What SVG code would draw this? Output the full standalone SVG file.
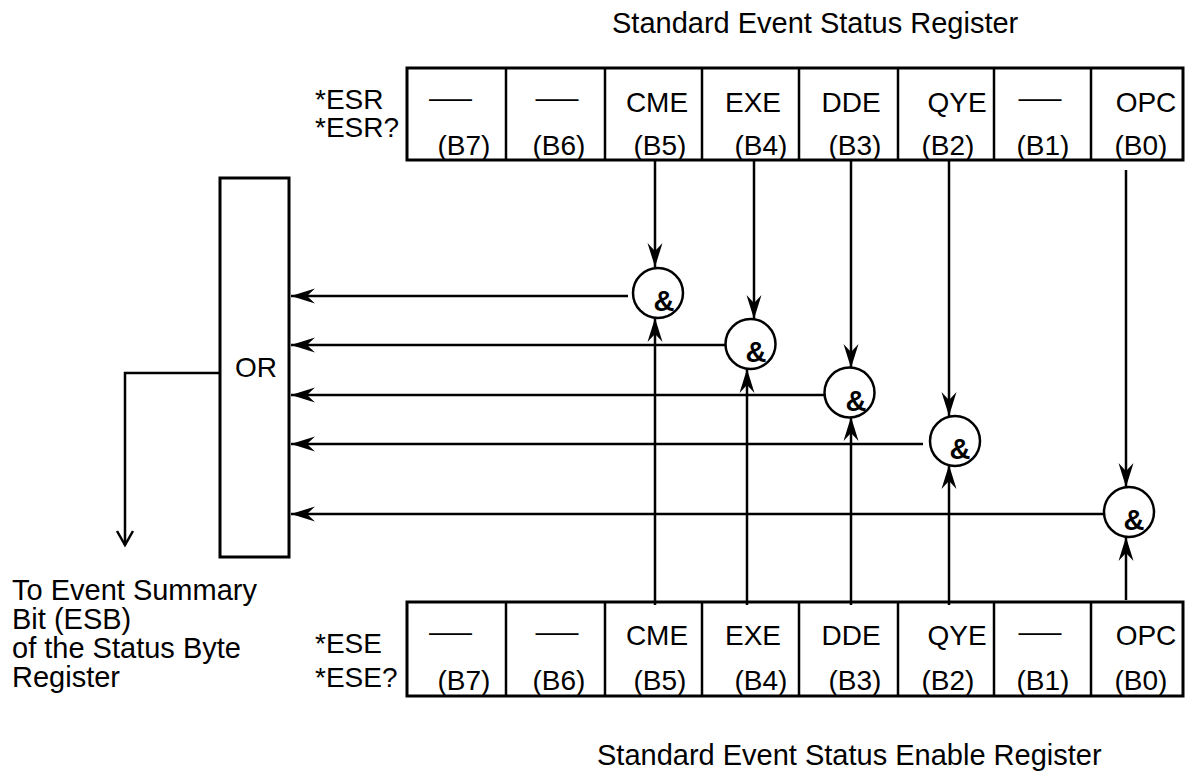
<svg xmlns="http://www.w3.org/2000/svg" width="1186" height="772" viewBox="0 0 1186 772">
<style>
  .t { font-family: "Liberation Sans", Arial, sans-serif; font-size: 28px; fill: #000; }
  .title { font-family: "Liberation Sans", Arial, sans-serif; font-size: 29px; fill: #000; }
  .note { font-family: "Liberation Sans", Arial, sans-serif; font-size: 29px; fill: #000; }
  .amp { font-family: "Liberation Sans", Arial, sans-serif; font-size: 29px; font-weight: bold; fill: #000; text-anchor: middle; }
  .c { text-anchor: middle; }
  .box { fill: #fff; stroke: #000; stroke-width: 3; }
  .div { stroke: #000; stroke-width: 2.5; fill: none; }
  .gate { fill: #fff; stroke: #000; stroke-width: 2.5; }
  .ln { stroke: #000; stroke-width: 2.5; fill: none; }
</style>
<defs>
  <marker id="ah" viewBox="-26 -9 27 18" markerWidth="27" markerHeight="18" refX="0" refY="0" orient="auto" markerUnits="userSpaceOnUse">
    <path d="M0,0 L-24,-7.5 L-16,0 L-24,7.5 Z" fill="#000"/>
  </marker>
</defs>

<text class="title" x="612" y="33">Standard Event Status Register</text>
<text class="title" x="597" y="765">Standard Event Status Enable Register</text>

<g id="esr-register">
  <rect class="box" x="407" y="68" width="776" height="92"/>
  <path class="div" d="M506,68V160M605,68V160M702,68V160M799,68V160M898,68V160M994,68V160M1091,68V160"/>
  <text class="t" x="315" y="109">*ESR</text>
  <text class="t" x="315" y="137">*ESR?</text>
  <text class="t c" x="450.5" y="107" textLength="43" lengthAdjust="spacingAndGlyphs">—</text>
  <text class="t c" x="557" y="107" textLength="43" lengthAdjust="spacingAndGlyphs">—</text>
  <text class="t c" x="657" y="112">CME</text>
  <text class="t c" x="753" y="112">EXE</text>
  <text class="t c" x="851" y="112">DDE</text>
  <text class="t c" x="957" y="112">QYE</text>
  <text class="t c" x="1040" y="107" textLength="43" lengthAdjust="spacingAndGlyphs">—</text>
  <text class="t c" x="1146" y="112">OPC</text>
  <text class="t c" x="464" y="155">(B7)</text>
  <text class="t c" x="559" y="155">(B6)</text>
  <text class="t c" x="660" y="155">(B5)</text>
  <text class="t c" x="761" y="155">(B4)</text>
  <text class="t c" x="855" y="155">(B3)</text>
  <text class="t c" x="948" y="155">(B2)</text>
  <text class="t c" x="1043" y="155">(B1)</text>
  <text class="t c" x="1141" y="155">(B0)</text>
</g>

<g id="ese-register">
  <rect class="box" x="407" y="602" width="776" height="94"/>
  <path class="div" d="M506,602V696M605,602V696M702,602V696M799,602V696M898,602V696M994,602V696M1091,602V696"/>
  <text class="t" x="315" y="653">*ESE</text>
  <text class="t" x="315" y="687">*ESE?</text>
  <text class="t c" x="450.5" y="641" textLength="43" lengthAdjust="spacingAndGlyphs">—</text>
  <text class="t c" x="557" y="641" textLength="43" lengthAdjust="spacingAndGlyphs">—</text>
  <text class="t c" x="657" y="645">CME</text>
  <text class="t c" x="753" y="645">EXE</text>
  <text class="t c" x="851" y="645">DDE</text>
  <text class="t c" x="957" y="645">QYE</text>
  <text class="t c" x="1040" y="641" textLength="43" lengthAdjust="spacingAndGlyphs">—</text>
  <text class="t c" x="1146" y="645">OPC</text>
  <text class="t c" x="464" y="690">(B7)</text>
  <text class="t c" x="559" y="690">(B6)</text>
  <text class="t c" x="660" y="690">(B5)</text>
  <text class="t c" x="761" y="690">(B4)</text>
  <text class="t c" x="855" y="690">(B3)</text>
  <text class="t c" x="948" y="690">(B2)</text>
  <text class="t c" x="1043" y="690">(B1)</text>
  <text class="t c" x="1141" y="690">(B0)</text>
</g>

<g id="connectors">
  <path class="ln" d="M655,160V267" marker-end="url(#ah)"/>
  <path class="ln" d="M754,160V319" marker-end="url(#ah)"/>
  <path class="ln" d="M851,160V368" marker-end="url(#ah)"/>
  <path class="ln" d="M949,160V416" marker-end="url(#ah)"/>
  <path class="ln" d="M1126,170V487" marker-end="url(#ah)"/>

  <path class="ln" d="M655,605V318" marker-end="url(#ah)"/>
  <path class="ln" d="M747,605V369" marker-end="url(#ah)"/>
  <path class="ln" d="M851,605V417" marker-end="url(#ah)"/>
  <path class="ln" d="M949,605V465" marker-end="url(#ah)"/>
  <path class="ln" d="M1126,600V537" marker-end="url(#ah)"/>

  <path class="ln" d="M628,296H291" marker-end="url(#ah)"/>
  <path class="ln" d="M725,345H291" marker-end="url(#ah)"/>
  <path class="ln" d="M824,395H291" marker-end="url(#ah)"/>
  <path class="ln" d="M923,444H291" marker-end="url(#ah)"/>
  <path class="ln" d="M1104,514H291" marker-end="url(#ah)"/>

  <path class="ln" d="M220,373H125V545"/>
  <path class="ln" d="M117,531L125,545L133,531"/>
</g>

<g id="or-gate">
  <rect class="box" x="220" y="178" width="69" height="379"/>
  <text class="t c" x="256" y="377">OR</text>
</g>

<g id="and-cme">
  <circle class="gate" cx="658" cy="293" r="25"/>
  <text class="amp" x="664" y="311">&amp;</text>
</g>
<g id="and-exe">
  <circle class="gate" cx="750.5" cy="344" r="25"/>
  <text class="amp" x="756" y="362">&amp;</text>
</g>
<g id="and-dde">
  <circle class="gate" cx="849.5" cy="392.5" r="25"/>
  <text class="amp" x="856" y="411">&amp;</text>
</g>
<g id="and-qye">
  <circle class="gate" cx="955" cy="441" r="25"/>
  <text class="amp" x="960" y="459">&amp;</text>
</g>
<g id="and-opc">
  <circle class="gate" cx="1129" cy="512" r="25"/>
  <text class="amp" x="1134" y="530">&amp;</text>
</g>

<g id="esb-note">
  <text class="note" x="12" y="600">To Event Summary</text>
  <text class="note" x="12" y="629">Bit (ESB)</text>
  <text class="note" x="12" y="658">of the Status Byte</text>
  <text class="note" x="12" y="687">Register</text>
</g>
</svg>
